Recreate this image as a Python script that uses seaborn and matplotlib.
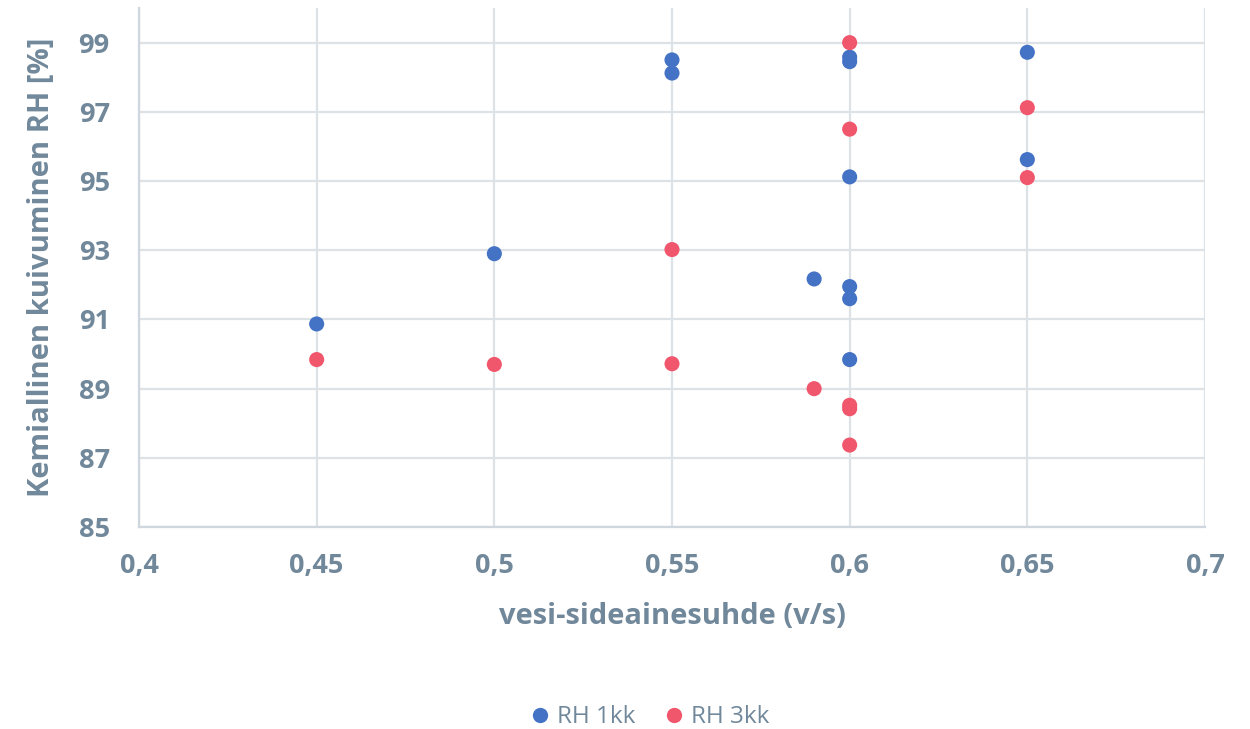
import matplotlib
matplotlib.use("Agg")
import matplotlib.pyplot as plt
import seaborn as sns
import pandas as pd
from matplotlib.lines import Line2D

# w/b ratio and chemical drying RH measurements
x_1kk = [0.45, 0.50, 0.55, 0.55, 0.59, 0.60, 0.60, 0.60, 0.60, 0.60, 0.60, 0.65, 0.65]
rh_1kk = [90.87, 92.90, 98.50, 98.12, 92.17, 98.58, 98.45, 95.12, 91.95, 91.60, 89.84, 98.72, 95.62]

x_3kk = [0.45, 0.50, 0.55, 0.55, 0.59, 0.60, 0.60, 0.60, 0.60, 0.60, 0.65, 0.65]
rh_3kk = [89.84, 89.70, 93.02, 89.72, 89.00, 99.00, 96.50, 88.52, 88.42, 87.37, 97.12, 95.10]

series_names = ["RH 1kk", "RH 3kk"]
x_ticks = [0.40, 0.45, 0.50, 0.55, 0.60, 0.65, 0.70]
x_tick_labels = ["0,4", "0,45", "0,5", "0,55", "0,6", "0,65", "0,7"]
y_ticks = [85, 87, 89, 91, 93, 95, 97, 99]

df = pd.concat([
    pd.DataFrame({"vs": x_1kk, "rh": rh_1kk, "sarja": series_names[0]}),
    pd.DataFrame({"vs": x_3kk, "rh": rh_3kk, "sarja": series_names[1]}),
])

sns.set_theme(style="white")
plt.rcParams["font.family"] = ["Open Sans", "DejaVu Sans"]

text_col = "#71889B"
grid_col = "#DDE2E7"
palette = {"RH 1kk": "#4472C4", "RH 3kk": "#F0566C"}

fig = plt.figure(figsize=(12.5, 7.29), dpi=100)
ax = fig.add_axes([0.1112, 0.277, 0.8528, 0.712])

sns.scatterplot(data=df, x="vs", y="rh", hue="sarja", palette=palette,
                s=118, edgecolor="none", legend=False, ax=ax, zorder=3)

ax.set_xlim(0.4, 0.7)
ax.set_ylim(85, 100)
ax.set_xticks(x_ticks)
ax.set_xticklabels(x_tick_labels)
ax.set_yticks(y_ticks)
ax.grid(True, color=grid_col, linewidth=1.6, zorder=0)
ax.set_axisbelow(True)

for side in ["top", "right"]:
    ax.spines[side].set_visible(False)
for side in ["left", "bottom"]:
    ax.spines[side].set_color("#CFD6DD")
    ax.spines[side].set_linewidth(1.6)

ax.tick_params(axis="both", length=0, colors=text_col, labelsize=19.5)
ax.tick_params(axis="x", pad=19)
ax.tick_params(axis="y", pad=21)
for lbl in ax.get_xticklabels() + ax.get_yticklabels():
    lbl.set_fontweight("bold")

ax.set_xlabel("vesi-sideainesuhde (v/s)", fontsize=21, fontweight="bold",
              color=text_col, labelpad=16)
ax.set_ylabel("Kemiallinen kuivuminen RH [%]", fontsize=21, fontweight="bold",
              color=text_col, labelpad=16)

handles = [Line2D([0], [0], marker="o", linestyle="none", markersize=11,
                  markerfacecolor=palette[n], markeredgecolor="none", label=n)
           for n in series_names]
fig.legend(handles=handles, loc="center", bbox_to_anchor=(0.52, 0.016),
           ncol=2, frameon=False, fontsize=17.5, labelcolor=text_col,
           handlelength=0.8, handletextpad=0.3, columnspacing=1.2)

fig.savefig("out.png", dpi=100)
